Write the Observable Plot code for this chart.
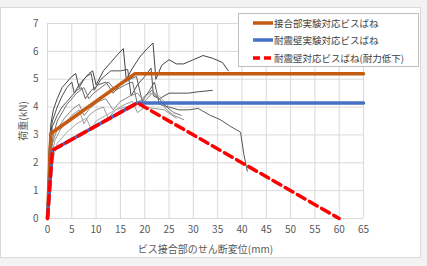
<!DOCTYPE html>
<html>
<head>
<meta charset="utf-8">
<script src="https://cdn.jsdelivr.net/npm/d3@7"></script>
<script src="https://cdn.jsdelivr.net/npm/@observablehq/plot@0.6"></script>
<style>
  html, body { margin: 0; padding: 0; background: #f2f2f2; }
  #wrap { position: relative; width: 427px; height: 266px; overflow: hidden;
          font-family: "Noto Sans CJK JP", "Noto Sans", sans-serif; }
  #card { position: absolute; left: 0; top: 7px; width: 421px; height: 251px;
          background: #fff; border: 1px solid #d9d9d9; box-sizing: border-box; }
  #chart { position: absolute; left: 0; top: 0; }
  #legend { position: absolute; left: 238px; top: 13px; width: 181px; height: 54px;
            background: #fff; border: 1px solid #bfbfbf; box-sizing: border-box; }
  .row { position: absolute; left: 14px; height: 14px; display: flex; align-items: center;
         font-size: 9.5px; color: #404040; white-space: nowrap;
         font-family: "Noto Sans CJK JP", sans-serif; }
  .sw { display: block; margin-right: 1px; }
</style>
</head>
<body>
<div id="wrap">
  <div id="card"></div>
  <div id="chart"></div>
  <div id="legend"></div>
</div>
<script>
// Axis ticks
const xTicks = [0, 5, 10, 15, 20, 25, 30, 35, 40, 45, 50, 55, 60, 65];
const yTicks = [0, 1, 2, 3, 4, 5, 6, 7];

// Model spring curves (displacement mm, load kN)
const jointX = [0, 0.7, 18, 65];
const jointY = [0, 3.05, 5.2, 5.2];
const wallX = [0, 1, 18.5, 65];
const wallY = [0, 2.45, 4.15, 4.15];
const degradeX = [0, 1, 18.5, 60];
const degradeY = [0, 2.45, 4.15, 0];

// Measured load–displacement curves from the joint tests
const test1X = [0, 0.3, 0.7, 1.2, 2, 3, 4, 5, 5.8, 6.5, 7.5, 8.5, 9.3, 10, 11.5, 13, 14.5, 15.6, 16.2, 17.5, 19, 20.5, 21.7, 22.3, 23.5, 25, 26.5, 28, 30, 32, 34, 36, 37.2];
const test1Y = [0, 2.4, 3.4, 3.9, 4.3, 4.7, 4.9, 5.1, 5.2, 4.7, 5.0, 5.2, 5.3, 4.8, 5.3, 5.6, 5.9, 6.1, 5.0, 5.4, 5.8, 6.1, 6.3, 5.0, 5.5, 5.7, 5.55, 5.55, 5.7, 5.85, 5.75, 5.6, 5.3];
const test2X = [0, 0.4, 1, 2, 3, 4, 5, 5.5, 6.5, 8, 9, 9.6, 11, 13, 15, 16.5, 17.2, 18.5, 20, 21.3, 21.8, 23, 25, 27, 29, 31, 33.9];
const test2Y = [0, 2.6, 3.5, 4.0, 4.4, 4.7, 4.9, 4.5, 4.8, 5.1, 5.2, 4.6, 5.0, 5.3, 5.3, 5.35, 4.4, 4.8, 5.1, 5.4, 4.4, 4.3, 4.5, 4.5, 4.5, 4.55, 4.6];
const test3X = [0, 0.5, 1, 2, 3, 4, 5, 6, 7, 7.8, 9, 10.5, 12, 13.5, 15, 17, 18.3, 19.5, 21, 22, 23, 25, 27, 29, 31, 33.5, 35.5, 37.7, 39.7, 40.4, 41.1];
const test3Y = [0, 2.5, 3.3, 3.7, 4.0, 4.2, 4.4, 4.6, 4.7, 4.3, 4.6, 4.8, 4.9, 4.5, 4.8, 5.0, 5.1, 4.2, 4.6, 4.9, 4.1, 4.0, 3.9, 3.9, 3.95, 3.7, 3.55, 3.3, 3.1, 2.3, 1.7];
const test4X = [0, 0.5, 1.2, 2, 3, 4, 5, 6, 7.5, 8.5, 9.5, 11, 12.5, 14, 16, 17.5, 18.5, 20, 21.5, 23, 24.5, 26, 27.5];
const test4Y = [0, 2.2, 3.0, 3.5, 3.8, 4.1, 4.3, 4.5, 4.7, 4.3, 4.5, 4.7, 4.9, 4.6, 4.8, 4.9, 4.1, 4.4, 4.6, 4.3, 4.0, 3.8, 3.7];
const test5X = [0, 0.5, 1, 2, 3.5, 5, 6.5, 7.5, 9, 10.5, 12, 13.5, 15, 17, 18.5, 20, 21.5, 23, 24.5, 26, 28];
const test5Y = [0, 1.8, 2.7, 3.2, 3.6, 3.9, 4.1, 3.7, 4.0, 4.2, 4.3, 3.9, 4.2, 4.4, 4.5, 4.2, 4.5, 4.3, 3.9, 3.7, 3.55];
const test6X = [0, 0.6, 1.5, 3, 5, 6.5, 7.5, 8.5, 10, 11.5, 12.5, 14, 16, 17.5, 18.5, 20, 22, 24, 26.5];
const test6Y = [0, 2.0, 2.8, 3.3, 3.7, 3.9, 3.4, 3.7, 3.9, 4.0, 3.6, 3.9, 4.1, 4.2, 3.8, 4.0, 3.95, 3.9, 3.6];
const test7X = [0, 0.8, 2, 4, 6, 8, 9, 10, 12, 14, 16, 18, 19.5, 21, 23, 25];
const test7Y = [0, 1.9, 2.7, 3.1, 3.4, 3.6, 3.2, 3.5, 3.7, 3.9, 4.0, 4.1, 4.3, 4.5, 4.4, 4.0];

const seriesNames = ["接合部実験対応ビスばね", "耐震壁実験対応ビスばね", "耐震壁対応ビスばね(耐力低下)"];
const seriesColors = ["#c55a11", "#4472c4", "#ff0000"];
const xLabel = "ビス接合部のせん断変位(mm)";
const yLabel = "荷重(kN)";

const pts = (xs, ys) => xs.map((x, i) => ({x, y: ys[i]}));
const tests = [
  {d: pts(test1X, test1Y), c: "#444"},
  {d: pts(test2X, test2Y), c: "#505050"},
  {d: pts(test3X, test3Y), c: "#5a5a5a"},
  {d: pts(test4X, test4Y), c: "#707070"},
  {d: pts(test5X, test5Y), c: "#888"},
  {d: pts(test6X, test6Y), c: "#999"},
  {d: pts(test7X, test7Y), c: "#aaa"}
];

const chart = Plot.plot({
  width: 427,
  height: 266,
  marginLeft: 47,
  marginRight: 64,
  marginTop: 23,
  marginBottom: 48,
  style: {background: "transparent", fontSize: "10px", color: "#595959",
          fontFamily: "'Noto Sans CJK JP', 'Noto Sans', sans-serif"},
  x: {domain: [0, 65]},
  y: {domain: [0, 7]},
  marks: [
    Plot.gridX(xTicks, {stroke: "#d9d9d9", strokeOpacity: 1}),
    Plot.gridY(yTicks, {stroke: "#d9d9d9", strokeOpacity: 1}),
    Plot.axisX(xTicks, {tickSize: 0, tickPadding: 7, label: xLabel, labelAnchor: "center",
                        labelOffset: 34, labelArrow: "none", fontSize: 10}),
    Plot.axisY(yTicks, {tickSize: 0, tickPadding: 9, label: yLabel, labelAnchor: "center",
                        labelOffset: 28, labelArrow: "none", fontSize: 10}),
    ...tests.map(t => Plot.line(t.d, {x: "x", y: "y", stroke: t.c, strokeWidth: 1})),
    Plot.line(pts(jointX, jointY), {x: "x", y: "y", stroke: seriesColors[0], strokeWidth: 3.5}),
    Plot.line(pts(wallX, wallY), {x: "x", y: "y", stroke: seriesColors[1], strokeWidth: 3.5}),
    Plot.line(pts(degradeX, degradeY), {x: "x", y: "y", stroke: seriesColors[2], strokeWidth: 3.5,
                                        strokeDasharray: "9,5"})
  ]
});
document.getElementById("chart").appendChild(chart);

// Legend: line swatch followed by the series name
const legend = document.getElementById("legend");
const rowTops = [2, 19, 37];
const svgNS = "http://www.w3.org/2000/svg";
seriesNames.forEach((name, i) => {
  const row = document.createElement("div");
  row.className = "row";
  row.style.top = rowTops[i] + "px";
  const sw = document.createElementNS(svgNS, "svg");
  sw.setAttribute("class", "sw");
  sw.setAttribute("width", 20);
  sw.setAttribute("height", 6);
  const ln = document.createElementNS(svgNS, "line");
  ln.setAttribute("x1", 0); ln.setAttribute("x2", 20);
  ln.setAttribute("y1", 3); ln.setAttribute("y2", 3);
  ln.setAttribute("stroke", seriesColors[i]);
  ln.setAttribute("stroke-width", 3.5);
  if (i === 2) ln.setAttribute("stroke-dasharray", "7,4");
  sw.appendChild(ln);
  row.appendChild(sw);
  row.appendChild(document.createTextNode(name));
  legend.appendChild(row);
});
</script>
</body>
</html>
